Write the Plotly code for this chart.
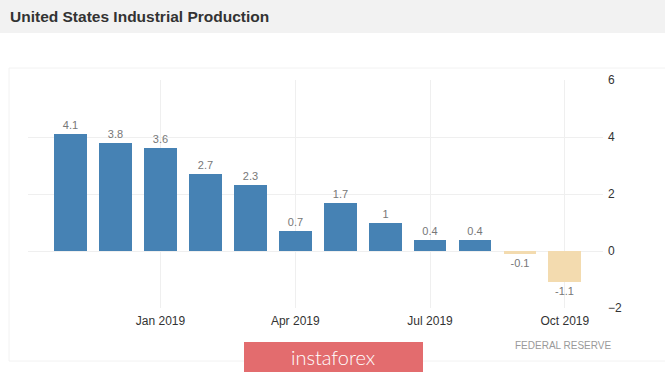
import plotly.graph_objects as go

months = ["Nov 2018", "Dec 2018", "Jan 2019", "Feb 2019", "Mar 2019", "Apr 2019",
          "May 2019", "Jun 2019", "Jul 2019", "Aug 2019", "Sep 2019", "Oct 2019"]
values = [4.1, 3.8, 3.6, 2.7, 2.3, 0.7, 1.7, 1.0, 0.4, 0.4, -0.1, -1.1]
tick_labels = ["Jan 2019", "Apr 2019", "Jul 2019", "Oct 2019"]
tick_months = ["Jan 2019", "Apr 2019", "Jul 2019", "Oct 2019"]
y_ticks = [-2, 0, 2, 4, 6]

POS = "#4682b4"
NEG = "#f3dbaf"

x_idx = list(range(len(months)))
colors = [POS if v >= 0 else NEG for v in values]
labels = [("%g" % v) for v in values]

W, H = 665, 373
L, R, T, B = 28, 62, 80, 65
PW, PH = W - L - R, H - T - B


def px(x):
    return (x - L) / PW


def py(y):
    return (H - B - y) / PH


fig = go.Figure()
fig.add_trace(go.Bar(
    x=x_idx, y=values, width=0.73,
    marker=dict(color=colors, line=dict(width=0)),
    text=labels, textposition="outside", cliponaxis=False,
    textfont=dict(family="Liberation Sans, Arial", size=11, color="#777777"),
    hoverinfo="skip",
))

fig.update_layout(
    width=W, height=H,
    margin=dict(l=L, r=R, t=T, b=B),
    paper_bgcolor="white", plot_bgcolor="white",
    showlegend=False,
    bargap=0,
    xaxis=dict(
        range=[-0.95, 11.85],
        tickvals=[months.index(m) for m in tick_months],
        ticktext=tick_labels,
        showgrid=True, gridcolor="#efefef", gridwidth=1,
        zeroline=False, showline=False, ticks="",
        tickfont=dict(family="Liberation Sans, Arial", size=12, color="#333333"),
        ticklabelstandoff=4,
        fixedrange=True,
    ),
    yaxis=dict(
        range=[-2, 6], side="right",
        tickvals=y_ticks,
        showgrid=True, gridcolor="#efefef", gridwidth=1,
        zeroline=False, showline=False, ticks="",
        tickfont=dict(family="Liberation Sans, Arial", size=12, color="#333333"),
        ticklabelstandoff=4,
        fixedrange=True,
    ),
    shapes=[
        dict(type="rect", xref="paper", yref="paper",
             x0=px(0), x1=px(W), y0=py(33), y1=py(0),
             fillcolor="#f2f2f2", line=dict(width=0), layer="below"),
        dict(type="rect", xref="paper", yref="paper",
             x0=px(9), x1=px(W + 10), y0=py(361), y1=py(68),
             fillcolor="rgba(0,0,0,0)", line=dict(color="#f2f2f2", width=1), layer="below"),
        dict(type="rect", xref="paper", yref="paper",
             x0=px(244), x1=px(423), y0=py(372), y1=py(342),
             fillcolor="#e36c6e", line=dict(width=0), layer="above"),
    ],
    annotations=[
        dict(text="<b>United States Industrial Production</b>", xref="paper", yref="paper",
             x=px(8), y=py(17), xanchor="left", yanchor="middle", showarrow=False,
             font=dict(family="Liberation Sans, Arial", size=15.5, color="#333333")),
        dict(text="FEDERAL RESERVE", xref="paper", yref="paper",
             x=px(613), y=py(345), xanchor="right", yanchor="middle", showarrow=False,
             font=dict(family="Liberation Sans, Arial", size=10, color="#9a9a9a")),
        dict(text="instaforex", xref="paper", yref="paper",
             x=px(333), y=py(357), xanchor="center", yanchor="middle", showarrow=False,
             font=dict(family="Lato, Roboto", size=20, color="white", weight=300)),
    ],
)

fig.write_html("out.html", config={"displayModeBar": False},
               post_script="document.body.style.margin='0';document.body.style.padding='0';")
